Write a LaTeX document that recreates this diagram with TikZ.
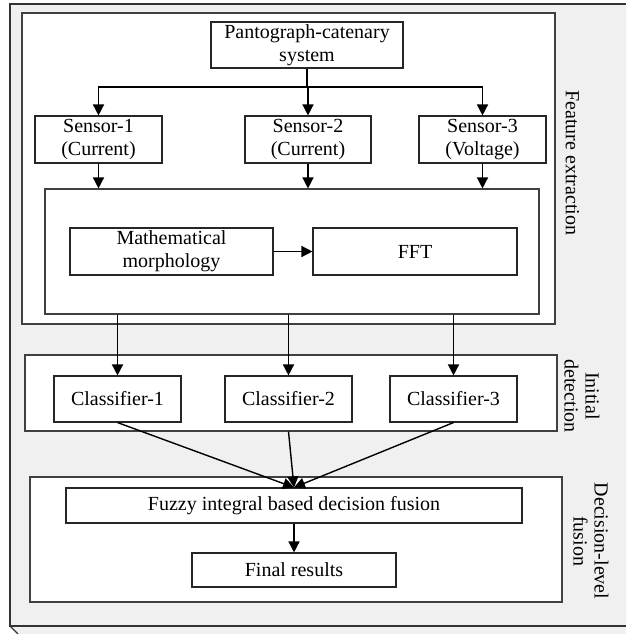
\documentclass[tikz,border=0pt]{standalone}
\usepackage{fontspec}
\setmainfont{Liberation Serif}
\usetikzlibrary{arrows.meta}
\tikzset{
	blk/.style = {draw=black!85, fill=white, line width=1.1pt, inner sep=0pt,
		align=center, font=\fontsize{20}{23}\selectfont},% simple block
	grp/.style = {draw=black!75, fill=white, line width=1.1pt, inner sep=0pt},% stage frame
	lbl/.style = {rotate=-90, align=center, inner sep=0pt,
		font=\fontsize{20}{21}\selectfont},% stage name
	flow/.style = {-{Triangle[length=11pt,width=11pt]}, line width=1.4pt}% signal arrow
}

\begin{document}
\begin{tikzpicture}[x=1pt, y=-1pt]
	\useasboundingbox (0,0) rectangle (626,634);
	% background plate
	\fill[black!6] (10,4) -- (626,4) -- (626,634) -- (18,634) -- (10,626) -- cycle;
	\draw[black!80, line width=1.1pt] (626,4) -- (10,4) -- (10,626) -- (626,626);
	\draw[black!80, line width=1.1pt] (10,626) -- (18,634);
	% stages
	\node[grp, minimum width=533pt, minimum height=311pt] (feat) at (288.5,168.5) {};
	\node[grp, minimum width=532pt, minimum height=76pt] (init) at (291,393) {};
	\node[grp, minimum width=532pt, minimum height=125pt] (dec) at (296,539.5) {};
	\node[lbl] (featlbl) at (572.5,163) {Feature extraction};
	\node[lbl] (initlbl) at (582,396) {Initial\\detection};
	\node[lbl] (declbl) at (591,541) {Decision-level\\fusion};
	% feature extraction
	\node[blk, minimum width=192pt, minimum height=46pt] (panto) at (307,45) {Pantograph-catenary\\system};
	\node[blk, minimum width=127pt, minimum height=47pt] (s1) at (98.5,139.5) {Sensor-1\\(Current)};
	\node[blk, minimum width=126pt, minimum height=47pt] (s2) at (308,139.5) {Sensor-2\\(Current)};
	\node[blk, minimum width=127pt, minimum height=47pt] (s3) at (482.5,139.5) {Sensor-3\\(Voltage)};
	\node[grp, minimum width=494pt, minimum height=125pt] (proc) at (292,251.5) {};
	\node[blk, minimum width=203pt, minimum height=47pt] (morph) at (171.5,251.5) {Mathematical\\morphology};
	\node[blk, minimum width=204pt, minimum height=47pt] (fft) at (415,251.5) {FFT};
	% initial detection
	\node[blk, minimum width=127pt, minimum height=46pt] (c1) at (117.5,399) {Classifier-1};
	\node[blk, minimum width=127pt, minimum height=46pt] (c2) at (288.5,399) {Classifier-2};
	\node[blk, minimum width=127pt, minimum height=46pt] (c3) at (453.5,399) {Classifier-3};
	% decision-level fusion
	\node[blk, minimum width=456pt, minimum height=35pt] (fuzzy) at (294,505.5) {Fuzzy integral based decision fusion};
	\node[blk, minimum width=204pt, minimum height=34pt] (final) at (294,570) {Final results};
	% arrows
	\coordinate (split) at (307,87);
	\draw[line width=1.4pt] (panto.south) -- (split);
	\draw[flow] (split) -| (s1.north);
	\draw[flow] (split) -- (split -| s2.north) -- (s2.north);
	\draw[flow] (split) -| (s3.north);
	\foreach \s in {s1,s2,s3}
		\draw[flow] (\s.south) -- (\s.south |- proc.north);
	\draw[flow] (morph.east) -- (fft.west);
	\foreach \c in {c1,c2,c3}
		\draw[flow] (\c.north |- proc.south) -- (\c.north);
	\draw[flow] (c1.south) -- (fuzzy.north);
	\draw[flow] (c2.south |- init.south) -- (fuzzy.north);
	\draw[flow] (c3.south) -- (fuzzy.north);
	\draw[flow] (fuzzy.south) -- (final.north);
\end{tikzpicture}
\end{document}
